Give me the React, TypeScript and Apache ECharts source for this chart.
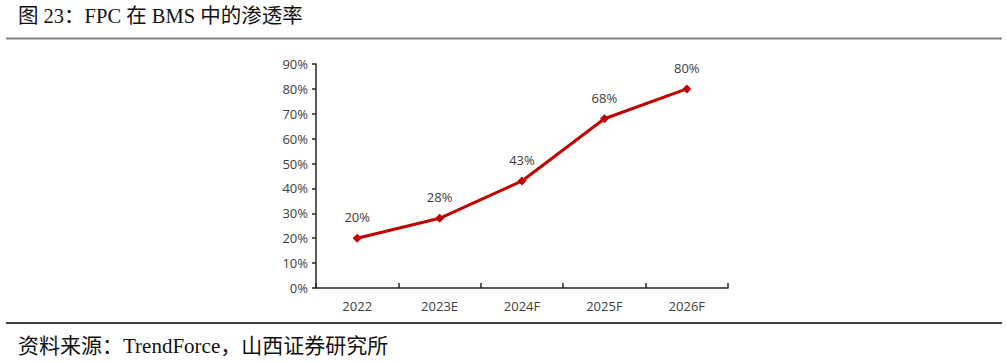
import React, { useEffect, useRef } from "react";
import * as echarts from "echarts";

const categories = ["2022", "2023E", "2024F", "2025F", "2026F"];
const penetration = [20, 28, 43, 68, 80];
const yTicks = [0, 10, 20, 30, 40, 50, 60, 70, 80, 90];
const titleText = "图 23：FPC 在 BMS 中的渗透率";
const sourceText = "资料来源：TrendForce，山西证券研究所";

export default function App() {
  const ref = useRef<HTMLDivElement>(null);
  useEffect(() => {
    if (!ref.current) return;
    const chart = echarts.init(ref.current, null, { renderer: "svg" });
    const serif = "'Liberation Serif', 'Times New Roman', 'Noto Sans CJK SC', serif";
    const sans = "'Open Sans', 'Liberation Sans', Arial, sans-serif";
    chart.setOption({
      animation: false,
      backgroundColor: "#ffffff",
      grid: { left: 316, top: 64, width: 412, height: 224, containLabel: false },
      xAxis: {
        type: "category",
        data: categories,
        boundaryGap: true,
        axisLine: { show: true, lineStyle: { color: "#262626", width: 1.5 } },
        axisTick: { show: true, inside: true, length: 5, lineStyle: { color: "#262626", width: 1.5 } },
        axisLabel: { color: "#404040", fontSize: 13, fontFamily: sans, margin: 11 },
        splitLine: { show: false },
      },
      yAxis: {
        type: "value",
        min: yTicks[0],
        max: yTicks[yTicks.length - 1],
        interval: 10,
        axisLine: { show: true, lineStyle: { color: "#262626", width: 1.5 } },
        axisTick: { show: true, length: 4, lineStyle: { color: "#262626", width: 1.5 } },
        axisLabel: { color: "#404040", fontSize: 13, fontFamily: sans, margin: 8, formatter: "{value}%" },
        splitLine: { show: false },
      },
      series: [
        {
          type: "line",
          data: penetration,
          symbol: "diamond",
          symbolSize: 9,
          lineStyle: { color: "#C00000", width: 3 },
          itemStyle: { color: "#C00000" },
          label: {
            show: true,
            position: "top",
            distance: 10,
            color: "#404040",
            fontSize: 13,
            fontFamily: sans,
            formatter: "{c}%",
          },
        },
      ],
      graphic: [
        {
          type: "text",
          left: 18,
          top: 6,
          style: { text: titleText, font: `20.5px ${serif}`, fill: "#111" },
        },
        {
          type: "line",
          shape: { x1: 6, y1: 38.5, x2: 1002, y2: 38.5 },
          style: { stroke: "#808080", lineWidth: 2 },
        },
        {
          type: "line",
          shape: { x1: 6, y1: 323, x2: 1002, y2: 323 },
          style: { stroke: "#000000", lineWidth: 1.5 },
        },
        {
          type: "text",
          left: 18,
          top: 335,
          style: { text: sourceText, font: `21px ${serif}`, fill: "#111" },
        },
      ],
    });
    return () => chart.dispose();
  }, []);
  return (
    <div
      ref={ref}
      style={{ position: "absolute", left: 0, top: 0, width: 1007, height: 363 }}
    />
  );
}
